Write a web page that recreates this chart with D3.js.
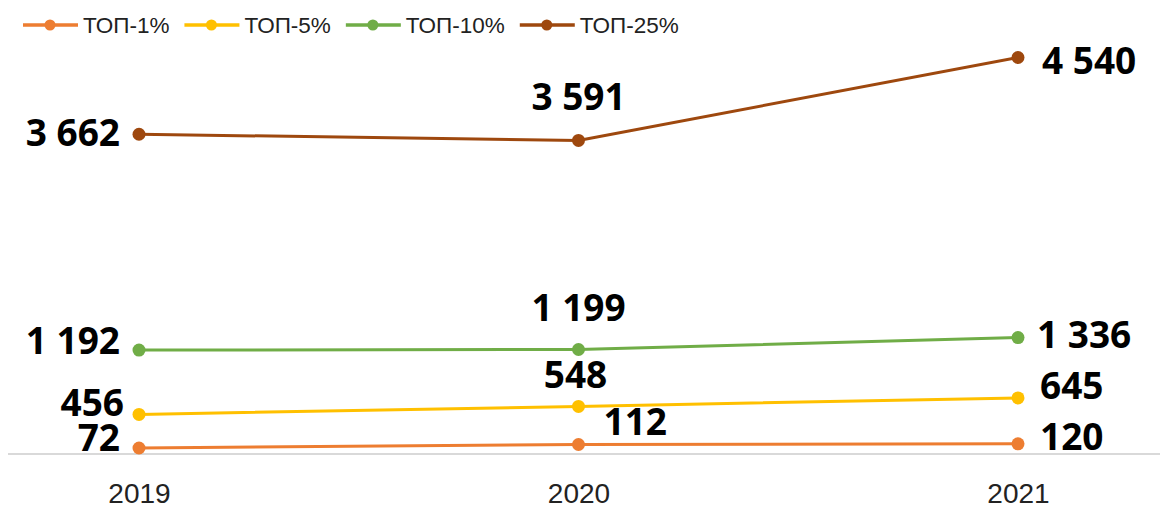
<!DOCTYPE html>
<html>
<head>
<meta charset="utf-8">
<style>
    body { margin: 0; background: #fff; }
    svg { display: block; }
    .x .domain { stroke: #d9d9d9; stroke-width: 2px; }
    .x .tick line { display: none; }
    .x .tick text { font-family: 'Liberation Sans', Arial, sans-serif; font-size: 28px; fill: #222; }
    .legend text { font-family: 'Liberation Sans', Arial, sans-serif; font-size: 22.5px; fill: #222; }
    .label { font-family: 'Open Sans', 'DejaVu Sans', sans-serif; font-weight: 700; font-size: 37px; fill: #000; }
</style>
</head>
<body>
<svg width="1160" height="507"></svg>
<script src="https://d3js.org/d3.v7.min.js"></script>
<script>
    let years = ["2019", "2020", "2021"]
    let names = ["ТОП-1%", "ТОП-5%", "ТОП-10%", "ТОП-25%"]
    let top1 = [72, 112, 120]
    let top5 = [456, 548, 645]
    let top10 = [1192, 1199, 1336]
    let top25 = [3662, 3591, 4540]
    let colors = ["#ED7D31", "#FFC000", "#70AD47", "#9E480E"]

    let series = [top1, top5, top10, top25].map((v, i) => ({ name: names[i], values: v, color: colors[i] }))

    let svg = d3.select("svg")

    let x = d3.scalePoint()
        .domain(years)
        .range([139, 1018])

    let y = d3.scaleLinear()
        .domain([0, 5000])
        .range([454.3, 17.3])

    let xAxis = svg.append("g")
        .attr("class", "x axis")
        .attr("transform", "translate(0,454)")
        .call(d3.axisBottom(x).tickSize(0).tickPadding(29))
    xAxis.select(".domain").attr("d", "M8,0H1160")

    let line = d3.line()
        .x((d, i) => x(years[i]))
        .y(d => y(d))

    svg.append("g")
        .selectAll("path")
        .data(series)
        .join("path")
        .attr("d", d => line(d.values))
        .style("fill", "none")
        .style("stroke", d => d.color)
        .style("stroke-width", "3px")

    series.forEach(s => {
        svg.append("g")
            .selectAll("circle")
            .data(s.values)
            .join("circle")
            .attr("cx", (d, i) => x(years[i]))
            .attr("cy", d => y(d))
            .attr("r", 6.5)
            .style("fill", s.color)
    })

    // labels: 2019 to the left, 2020 above, 2021 to the right
    // offsets from the point, [dx, dy] by series (1%, 5%, 10%, 25%)
    let offsets = [
        [[-19, 3], [-15, 2], [-19, 4], [-19, 12]],
        [[25, -10], [-3, -18], [0, -29], [0, -30]],
        [[22, 6], [22, 1], [19, 10], [24, 16]]
    ]
    let fmt = v => d3.format(",")(v).replace(/,/g, " ")
    let labels = []
    series.forEach((s, si) => {
        s.values.forEach((v, i) => labels.push({ v: v, i: i, si: si }))
    })

    svg.append("g")
        .selectAll("text")
        .data(labels)
        .join("text")
        .attr("class", "label")
        .attr("x", d => x(years[d.i]) + offsets[d.i][d.si][0])
        .attr("y", d => y(d.v) + offsets[d.i][d.si][1])
        .attr("text-anchor", d => d.i == 0 ? "end" : (d.i == 2 || d.si == 0) ? "start" : "middle")
        .text(d => fmt(d.v))

    // legend
    let leg = svg.append("g").attr("class", "legend")
    let lx = 23
    series.forEach(s => {
        let g = leg.append("g").attr("transform", `translate(${lx},25)`)
        g.append("line")
            .attr("x1", 0).attr("x2", 55)
            .style("stroke", s.color)
            .style("stroke-width", "3.5px")
        g.append("circle")
            .attr("cx", 27).attr("r", 5.5)
            .style("fill", s.color)
        let t = g.append("text")
            .attr("x", 60)
            .attr("dy", "0.36em")
            .text(s.name)
        lx += 60 + t.node().getComputedTextLength() + 15
    })
</script>
</body>
</html>
